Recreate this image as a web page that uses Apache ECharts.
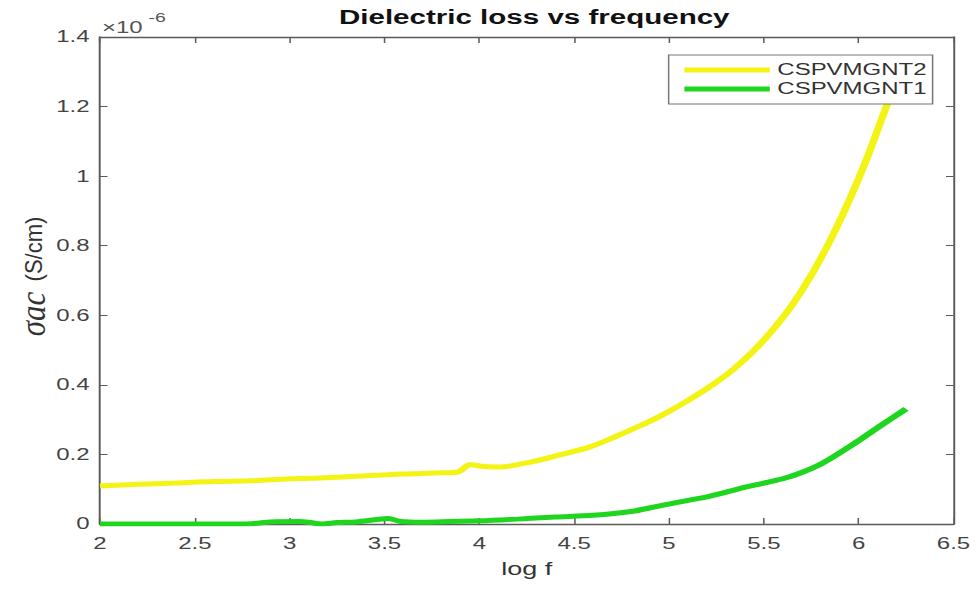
<!DOCTYPE html>
<html>
<head>
<meta charset="utf-8">
<script src="https://cdn.jsdelivr.net/npm/echarts@6/dist/echarts.min.js"></script>
<style>
  html, body { margin: 0; padding: 0; background: #fff; overflow: hidden; }
  /* the figure is laid out narrow and widened horizontally as a whole */
  #chart { width: 653px; height: 592px; transform: scaleX(1.4992); transform-origin: 0 0; }
</style>
</head>
<body>
<div id="chart"></div>
<script>
// log f values and sigma_ac (in units of 1e-6 S/cm) for each sample
const logF2 = [2.00, 2.20, 2.40, 2.60, 2.80, 3.00, 3.20, 3.40, 3.60, 3.80, 3.89, 3.95, 4.03, 4.11,
               4.27, 4.42, 4.58, 4.70, 4.85, 4.97, 5.10, 5.23, 5.34, 5.45, 5.55, 5.65, 5.75, 5.85,
               5.95, 6.05, 6.15, 6.25];
const sigma2 = [0.109, 0.114, 0.118, 0.122, 0.124, 0.130, 0.133, 0.139, 0.144, 0.147, 0.150, 0.170, 0.165, 0.164,
                0.178, 0.198, 0.221, 0.247, 0.283, 0.315, 0.355, 0.400, 0.445, 0.500, 0.560, 0.630, 0.715, 0.815,
                0.930, 1.060, 1.205, 1.330];

const logF1 = [2.00, 2.30, 2.60, 2.80, 2.90, 3.05, 3.10, 3.17, 3.25, 3.35, 3.45, 3.52, 3.58, 3.70,
               3.85, 4.00, 4.20, 4.40, 4.60, 4.80, 4.95, 5.10, 5.20, 5.42, 5.60, 5.70, 5.81, 5.99,
               6.10, 6.25];
const sigma1 = [0.000, 0.000, 0.000, 0.001, 0.006, 0.007, 0.005, 0.000, 0.004, 0.006, 0.012, 0.016, 0.008, 0.005,
                0.007, 0.009, 0.014, 0.020, 0.025, 0.036, 0.052, 0.068, 0.078, 0.108, 0.130, 0.148, 0.175, 0.236,
                0.277, 0.331];

const seriesNames = ['CSPVMGNT2', 'CSPVMGNT1'];
const seriesColors = ['#f3f314', '#1fd61f'];

const xTicks = { min: 2, max: 6.5, interval: 0.5 };
const yTicks = { min: 0, max: 1.4, interval: 0.2 };

const pairs = (xs, ys) => xs.map((x, i) => [x, ys[i]]);

const axisColor = '#5a5a5a';
const labelColor = '#444';
const fontFamily = '"Liberation Sans", Arial, sans-serif';
const serifFamily = '"Liberation Serif", "DejaVu Serif", serif';

const chart = echarts.init(document.getElementById('chart'), null, { renderer: 'svg' });

const grid = { left: 66.7, top: 37, width: 569.3, height: 487 };

function lineSeries(i, xs, ys) {
  return {
    name: seriesNames[i],
    type: 'line',
    xAxisIndex: 0, yAxisIndex: 0,
    data: pairs(xs, ys),
    showSymbol: false,
    symbol: 'none',
    smooth: 0.3,
    lineStyle: { color: seriesColors[i], width: 5 },
    itemStyle: { color: seriesColors[i] },
    z: 2 + i
  };
}

function valueAxis(extra) {
  return Object.assign({
    type: 'value',
    axisLine: { show: true, onZero: false, lineStyle: { color: axisColor, width: 1.3 } },
    splitLine: { show: false }
  }, extra);
}

chart.setOption({
  animation: false,
  backgroundColor: '#fff',
  textStyle: { fontFamily: fontFamily },
  title: {
    text: 'Dielectric loss vs frequency',
    left: grid.left + grid.width / 2,
    textAlign: 'center',
    top: 2,
    textStyle: { fontSize: 19.7, fontWeight: 'bold', color: '#111', fontFamily: fontFamily }
  },
  grid: grid,
  legend: {
    data: seriesNames,
    orient: 'vertical',
    left: 446,
    top: 55,
    padding: [7, 4, 7, 8],
    itemWidth: 57,
    itemHeight: 14,
    itemGap: 3,
    backgroundColor: '#fff',
    borderColor: '#777',
    borderWidth: 1,
    borderRadius: 0,
    itemStyle: { opacity: 0 },
    lineStyle: { width: 5 },
    textStyle: { fontSize: 16, color: '#333', fontFamily: fontFamily }
  },
  xAxis: [
    valueAxis({
      position: 'bottom',
      min: xTicks.min, max: xTicks.max, interval: xTicks.interval,
      name: 'log f',
      nameLocation: 'middle',
      nameGap: 36,
      nameTextStyle: { fontSize: 18, color: '#333' },
      axisTick: { show: true, inside: true, length: 6, lineStyle: { color: axisColor } },
      axisLabel: { fontSize: 16, color: labelColor, margin: 11 }
    }),
    valueAxis({
      position: 'top',
      min: xTicks.min, max: xTicks.max, interval: xTicks.interval,
      axisTick: { show: true, inside: true, length: 6, lineStyle: { color: axisColor } },
      axisLabel: { show: false }
    })
  ],
  yAxis: [
    valueAxis({
      position: 'left',
      min: yTicks.min, max: yTicks.max, interval: yTicks.interval,
      axisTick: { show: true, inside: true, length: 5, lineStyle: { color: axisColor } },
      axisLabel: { fontSize: 16, color: labelColor, margin: 7 }
    }),
    valueAxis({
      position: 'right',
      min: yTicks.min, max: yTicks.max, interval: yTicks.interval,
      axisTick: { show: true, inside: true, length: 5, lineStyle: { color: axisColor } },
      axisLabel: { show: false }
    })
  ],
  graphic: [
    // exponent note above the y axis
    {
      type: 'text', left: 68, top: 19, silent: true,
      style: { text: '×10', fontSize: 16, fill: '#555', fontFamily: fontFamily }
    },
    {
      type: 'text', left: 99, top: 11, silent: true,
      style: { text: '-6', fontSize: 13, fill: '#555', fontFamily: fontFamily }
    },
    // y axis title, rotated; local scaleY narrows the glyphs across the text direction
    {
      type: 'text', silent: true,
      x: 23, y: 249,
      rotation: Math.PI / 2,
      scaleY: 0.7,
      style: {
        text: '(S/cm)', align: 'center', verticalAlign: 'middle',
        fontSize: 22, fill: '#333', fontFamily: fontFamily
      }
    },
    {
      type: 'text', silent: true,
      x: 22, y: 314,
      rotation: Math.PI / 2,
      scaleY: 0.75,
      style: {
        text: 'σac', align: 'center', verticalAlign: 'middle',
        fontSize: 31, fontStyle: 'italic', fill: '#333', fontFamily: serifFamily
      }
    }
  ],
  series: [
    lineSeries(0, logF2, sigma2),
    lineSeries(1, logF1, sigma1)
  ]
});
</script>
</body>
</html>
